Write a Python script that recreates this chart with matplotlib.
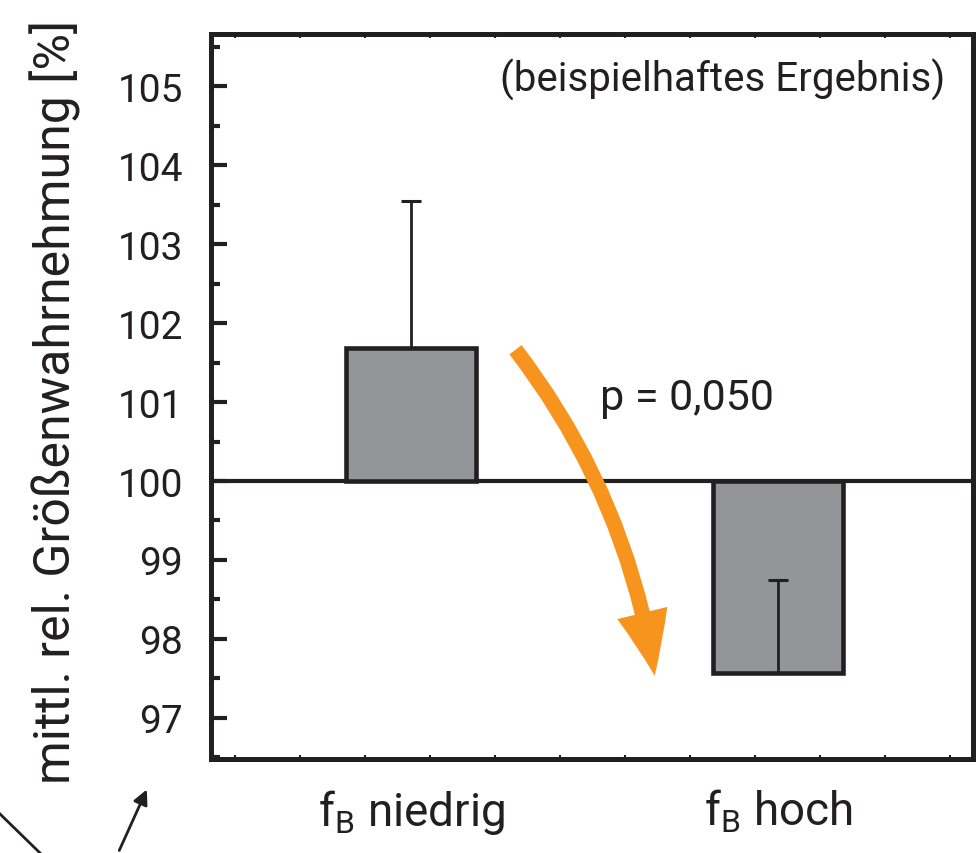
import numpy as np
import matplotlib
matplotlib.use("Agg")
import matplotlib.pyplot as plt
from matplotlib.patches import FancyArrowPatch
from matplotlib.lines import Line2D

# data
categories = ["f$_\\mathregular{B}$ niedrig", "f$_\\mathregular{B}$ hoch"]
means = [101.69, 97.57]        # mean relative size perception [%]
err_up = [1.85, 1.18]          # one-sided error bar length
baseline = 100
y_ticks = [97, 98, 99, 100, 101, 102, 103, 104, 105]
p_text = "p = 0,050"

ink = "#231f20"
bar_grey = "#949598"
orange = "#f7941d"

plt.rcParams["font.family"] = ["Roboto", "DejaVu Sans"]

fig = plt.figure(figsize=(9.76, 8.54), dpi=100)
ax = fig.add_axes([211 / 976, 94 / 854, 762 / 976, 725 / 854])

x = np.arange(len(categories))
heights = [m - baseline for m in means]

# bars hanging from the 100 % line
ax.bar(x, heights, bottom=baseline, width=0.352, color=bar_grey,
       edgecolor=ink, linewidth=3.3, zorder=2)
ax.errorbar(x, means, yerr=[[0, 0], err_up], fmt="none", ecolor=ink,
            elinewidth=2.0, capsize=7, capthick=2.2, zorder=3)
ax.axhline(baseline, color=ink, linewidth=3, zorder=1)

ax.set_xlim(-0.545, 1.531)
ax.set_ylim(96.48, 105.66)

# axes styling
for s in ax.spines.values():
    s.set_linewidth(3.6)
    s.set_color(ink)

ax.set_yticks(y_ticks)
ax.set_yticks(np.arange(96.5, 106, 1.0), minor=True)
ax.tick_params(axis="y", which="major", direction="in", length=11.5, width=3,
               color=ink, labelsize=28, pad=20, labelcolor=ink)
ax.tick_params(axis="y", which="minor", direction="in", length=6.5, width=3,
               color=ink)

ax.set_xticks(x)
ax.set_xticklabels(categories)
ax.set_xticks(np.arange(-0.480, 1.53, 0.177), minor=True)
ax.tick_params(axis="x", which="major", length=0, labelsize=33, pad=20,
               labelcolor=ink)
ax.tick_params(axis="x", which="minor", direction="in", length=3, width=1.5,
               color=ink, top=True, bottom=True)

fig.text(55 / 976, 1 - 402 / 854, "mittl. rel. Größenwahrnehmung [%]",
         rotation=90, ha="center", va="center", fontsize=36, color=ink)

ax.text(0.963, 0.938, "(beispielhaftes Ergebnis)", transform=ax.transAxes,
        ha="right", va="center", fontsize=29, color=ink)
ax.text(0.5105, 0.4993, p_text, transform=ax.transAxes,
        ha="left", va="center", fontsize=31, color=ink)

# curved orange arrow from the high bar to the low bar
arrow = FancyArrowPatch((0.28, means[0]), (0.665, 97.5),
                        connectionstyle="arc3,rad=-0.13",
                        arrowstyle="simple,head_width=3.7,head_length=4.6,tail_width=1.1",
                        mutation_scale=10, color=orange, lw=0, zorder=4)
ax.add_patch(arrow)

# leftover leader lines at the lower left edge
fig.add_artist(Line2D([0, 0.041], [0.0457, 0.0], transform=fig.transFigure,
                      color=ink, lw=2))
fig.add_artist(FancyArrowPatch((0.121, 0.0), (0.1516, 0.0773),
                               transform=fig.transFigure, arrowstyle="-|>",
                               mutation_scale=22, color=ink, lw=2))

fig.savefig("out.png", dpi=100)
